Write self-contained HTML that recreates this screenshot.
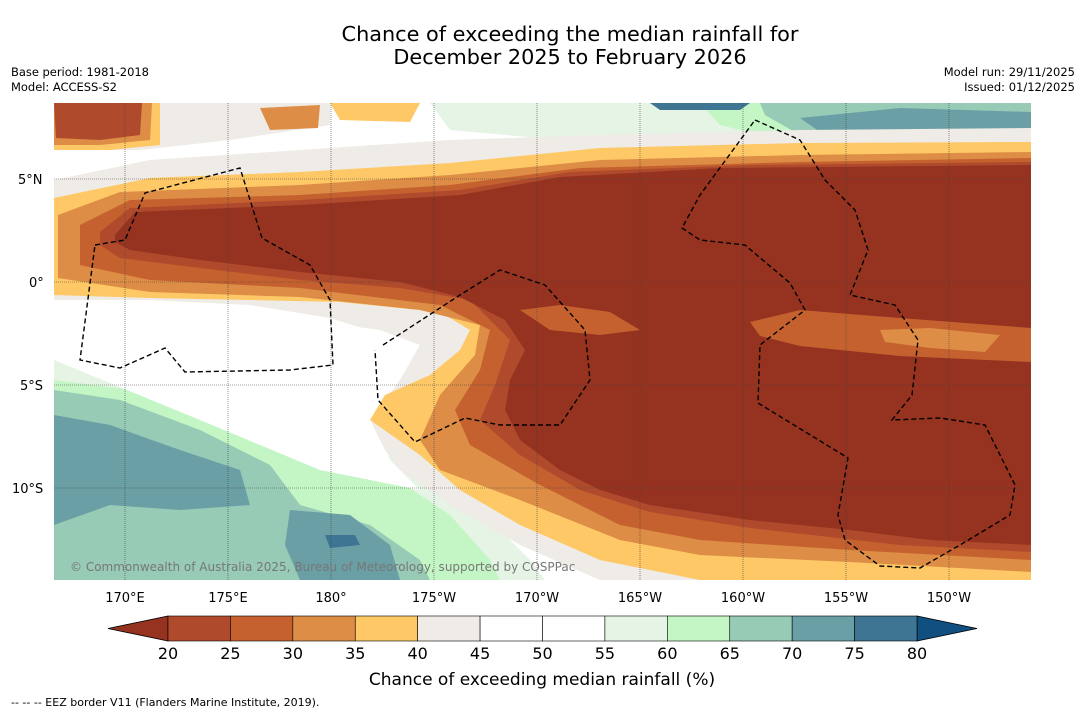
<!DOCTYPE html>
<html><head><meta charset="utf-8"><style>
html,body{margin:0;padding:0;background:#fff;}
svg{display:block;font-family:"DejaVu Sans","Liberation Sans",sans-serif;}
</style></head><body>
<svg id="c" width="1085" height="713" viewBox="0 0 1085 713" xmlns="http://www.w3.org/2000/svg">
<rect width="1085" height="713" fill="#ffffff"/>
<text x="570" y="41" font-size="20.8" text-anchor="middle">Chance of exceeding the median rainfall for</text>
<text x="570" y="64" font-size="20.8" text-anchor="middle">December 2025 to February 2026</text>
<text x="11" y="76" font-size="11.5" textLength="138">Base period: 1981-2018</text>
<text x="11" y="91" font-size="11.5" textLength="106">Model: ACCESS-S2</text>
<text x="1075" y="76" font-size="11.5" text-anchor="end">Model run: 29/11/2025</text>
<text x="1075" y="91" font-size="11.5" text-anchor="end">Issued: 01/12/2025</text>

<g>
<clipPath id="mc"><rect x="54" y="103" width="977" height="477"/></clipPath>
<g clip-path="url(#mc)">
<rect x="54" y="103" width="977" height="477" fill="#ffffff"/>
<polygon fill="#e6f4e6" points="430,103 740,103 760,130 700,140 560,140 450,130"/>
<polygon fill="#c4f5c4" points="700,103 1031,103 1031,155 900,150 800,145 720,125"/>
<polygon fill="#97cbb5" points="760,103 1031,103 1031,148 900,142 800,135 765,115"/>
<polygon fill="#6a9fa5" points="800,118 900,108 1031,112 1031,138 930,140 820,132"/>
<polygon fill="#3d7592" points="650,103 750,103 740,110 660,110"/>
<polygon fill="#efebe6" points="54,103 330,103 330,125 230,140 140,150 54,150"/>
<polygon fill="#fdc865" points="54,103 160,103 160,145 110,150 54,150"/>
<polygon fill="#dd8d45" points="54,103 152,103 150,140 100,145 54,145"/>
<polygon fill="#b04a2c" points="54,103 142,103 140,135 100,140 56,138"/>
<polygon fill="#dd8d45" points="260,108 320,105 318,128 270,130"/>
<polygon fill="#fdc865" points="330,103 420,103 410,122 340,120"/>
<polygon fill="#e6f4e6" points="54,360 150,380 250,400 330,430 420,470 480,510 530,560 545,580 54,580"/>
<polygon fill="#c4f5c4" points="54,380 150,392 240,410 310,440 390,475 450,515 490,560 500,580 54,580"/>
<polygon fill="#97cbb5" points="54,390 120,400 200,430 270,465 300,505 370,525 420,560 430,580 54,580"/>
<polygon fill="#6a9fa5" points="54,415 110,425 180,450 240,470 250,505 180,510 110,505 54,525"/>
<polygon fill="#6a9fa5" points="290,510 350,515 390,545 400,580 300,580 285,545"/>
<polygon fill="#3d7592" points="325,535 355,535 360,545 330,548"/>
<polygon fill="#e6f4e6" points="60,320 110,330 150,345 120,360 70,355"/>
<polygon fill="#efebe6" points="54,180 150,160 300,150 450,140 600,135 800,130 1031,128 1031,580 600,580 520,545 450,505 400,470 370,430 380,390 400,340 330,318 250,305 150,300 54,300"/>
<polygon fill="#ffffff" points="54,302 150,304 250,312 320,322 380,330 420,345 400,380 370,420 390,460 420,490 320,470 200,420 54,360"/>
<polygon fill="#fdc865" points="54,198 150,178 300,172 450,163 600,148 800,143 1031,142 1031,580 700,580 600,560 520,525 460,490 420,455 370,420 385,395 430,375 460,350 470,330 440,312 340,302 250,300 150,298 54,295"/>
<polygon fill="#dd8d45" points="58,215 120,192 300,185 450,175 600,160 800,155 1031,152 1031,572 850,562 700,555 620,540 520,500 440,470 420,440 440,395 475,355 480,325 420,310 300,297 150,292 58,278"/>
<polygon fill="#c4612f" points="80,225 130,200 300,195 450,185 580,168 800,162 1031,158 1031,560 850,550 700,540 620,525 540,485 470,445 455,410 480,370 490,330 440,305 300,288 150,280 80,265"/>
<polygon fill="#b04a2c" points="100,232 130,208 300,200 460,190 570,172 750,165 1031,162 1031,552 900,545 750,528 650,512 580,490 520,455 480,420 495,385 510,340 470,300 400,288 300,280 200,268 120,258 100,245"/>
<polygon fill="#963220" points="115,235 135,212 300,205 460,195 560,177 720,168 1031,165 1031,545 930,540 850,530 750,520 650,505 600,490 560,470 520,440 505,410 510,380 525,350 505,320 460,297 400,282 300,272 200,260 130,250 115,242"/>
<polygon fill="#c4612f" points="750,322 800,310 900,318 1031,328 1031,362 900,356 800,346 760,336"/>
<polygon fill="#dd8d45" points="880,330 930,328 1000,335 985,352 930,348 885,342"/>
<polygon fill="#c4612f" points="520,310 560,305 610,312 640,330 600,335 550,330"/>
<g stroke="#444" stroke-width="0.6" stroke-dasharray="1,1">
<line x1="125" y1="103" x2="125" y2="580"/><line x1="228" y1="103" x2="228" y2="580"/><line x1="331" y1="103" x2="331" y2="580"/><line x1="434" y1="103" x2="434" y2="580"/><line x1="537" y1="103" x2="537" y2="580"/><line x1="640" y1="103" x2="640" y2="580"/><line x1="743" y1="103" x2="743" y2="580"/><line x1="846" y1="103" x2="846" y2="580"/><line x1="949" y1="103" x2="949" y2="580"/>
<line x1="54" y1="179" x2="1031" y2="179"/><line x1="54" y1="282" x2="1031" y2="282"/><line x1="54" y1="385" x2="1031" y2="385"/><line x1="54" y1="488" x2="1031" y2="488"/>
</g>
<g fill="none" stroke="#000" stroke-width="1.4" stroke-dasharray="5,3">
<path d="M95,245 L125,240 L145,193 L240,168 L262,238 L310,265 L330,300 L333,365 L290,370 L185,372 L165,348 L120,368 L80,360 L95,245"/>
<path d="M383,345 L460,295 L500,270 L545,285 L585,330 L590,380 L560,425 L500,425 L465,418 L415,442 L378,400 L375,350"/>
<path d="M755,120 L800,140 L825,180 L855,210 L868,250 L850,295 L895,305 L918,340 L912,395 L892,420 L940,418 L985,425 L1015,485 L1010,515 L960,545 L920,568 L880,566 L845,540 L838,515 L848,458 L758,403 L760,345 L805,310 L790,283 L745,245 L700,240 L682,228 L700,195 L755,120"/>
</g>
</g>
<text x="70" y="571" font-size="12" fill="#777">© Commonwealth of Australia 2025, Bureau of Meteorology, supported by COSPPac</text>
</g>

<g font-size="13" fill="#000">
<text x="18" y="184">5°N</text>
<text x="29" y="287">0°</text>
<text x="20" y="390">5°S</text>
<text x="12" y="493">10°S</text>
</g>
<g id="lon" font-size="13" text-anchor="middle"></g>
<g id="cb"></g>
<text x="542" y="685" font-size="17" text-anchor="middle">Chance of exceeding median rainfall (%)</text>
<text x="11" y="706" font-size="11">--  --  -- EEZ border V11 (Flanders Marine Institute, 2019).</text>
</svg>
<script>
const lonLabels=["170°E","175°E","180°","175°W","170°W","165°W","160°W","155°W","150°W"];
const binEdges=[20,25,30,35,40,45,50,55,60,65,70,75,80];
const binColors=["#b04a2c","#c4612f","#dd8d45","#fdc865","#efebe6","#ffffff","#ffffff","#e6f4e6","#c4f5c4","#97cbb5","#6a9fa5","#3d7592"];
const lowColor="#963220", highColor="#104f80";
const NS="http://www.w3.org/2000/svg";
function mk(t,a,p){const e=document.createElementNS(NS,t);for(const k in a)e.setAttribute(k,a[k]);p.appendChild(e);return e;}
const lon=document.getElementById('lon');
lonLabels.forEach((l,i)=>{const t=mk('text',{x:125+i*103,y:602},lon);t.textContent=l;

});
const cb=document.getElementById('cb');
const x0=168,x1=917,y0=616,h=25;
const xs=v=>x0+(v-binEdges[0])/(binEdges[binEdges.length-1]-binEdges[0])*(x1-x0);
const lo=mk('polygon',{points:`${x0},${y0} ${x0},${y0+h} 108,${y0+h/2}`,fill:lowColor,stroke:'#000','stroke-width':0.8},cb);


const hi=mk('polygon',{points:`${x1},${y0} ${x1},${y0+h} 977,${y0+h/2}`,fill:highColor,stroke:'#000','stroke-width':0.8},cb);


binColors.forEach((c,i)=>{const r=mk('rect',{x:xs(binEdges[i]),y:y0,width:xs(binEdges[i+1])-xs(binEdges[i]),height:h,fill:c,stroke:'#000','stroke-width':0.6},cb);

});
binEdges.forEach(v=>{const t=mk('text',{x:xs(v),y:659,'font-size':16,'text-anchor':'middle'},cb);t.textContent=v;

});
</script>
</body></html>
